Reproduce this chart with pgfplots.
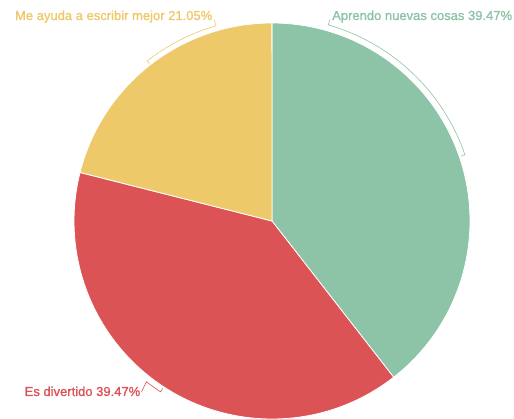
\documentclass[border=0pt]{standalone}
\usepackage{pgfplots}
\pgfplotsset{compat=1.18}
\usepackage{fontspec}
\setmainfont{Liberation Sans}
\newfontfamily\labfont{Liberation Sans}[FakeBold=1.3]
\definecolor{cgreen}{RGB}{141,195,167}
\definecolor{cred}{RGB}{220,83,86}
\definecolor{cyellow}{RGB}{238,201,106}
% slice values (percent), clockwise from the top
\def\vA{39.47}% Aprendo nuevas cosas
\def\vB{39.47}% Es divertido
\def\vC{21.05}% Me ayuda a escribir mejor
\begin{document}
\begin{tikzpicture}
\pgfmathsetmacro\aA{90}
\pgfmathsetmacro\aB{\aA-3.6*\vA}
\pgfmathsetmacro\aC{\aB-3.6*\vB}
\pgfmathsetmacro\aD{\aC-3.6*\vC}
\pgfmathsetmacro\mA{(\aA+\aB)/2}
\pgfmathsetmacro\mB{(\aB+\aC)/2}
\pgfmathsetmacro\mC{(\aC+\aD)/2+360}
\begin{axis}[scale only axis, width=514pt, height=419pt,
  xmin=0, xmax=514, ymin=0, ymax=419, hide axis, clip=false]
\fill[cgreen, draw=white, line width=0.8pt] (axis cs:272,198) -- ++(\aA:198pt) arc[start angle=\aA, end angle=\aB, radius=198pt] -- cycle;
\fill[cred, draw=white, line width=0.8pt] (axis cs:272,198) -- ++(\aB:198pt) arc[start angle=\aB, end angle=\aC, radius=198pt] -- cycle;
\fill[cyellow, draw=white, line width=0.8pt] (axis cs:272,198) -- ++(\aC:198pt) arc[start angle=\aC, end angle=\aD, radius=198pt] -- cycle;
% label brackets
\draw[cgreen, line width=0.6pt] (axis cs:330,399.5) -- ([shift={(74:204pt)}]axis cs:272,198) arc[start angle=74, end angle=\mA, radius=204pt] -- ([shift={(\mA:200pt)}]axis cs:272,198);
\draw[cyellow, line width=0.6pt] (axis cs:214,399.5) -- ([shift={(106:203pt)}]axis cs:272,198) arc[start angle=106, end angle=\mC, radius=203pt] -- ([shift={(\mC:199.5pt)}]axis cs:272,198);
\draw[cred, line width=0.6pt] (axis cs:141.5,27) -- ([shift={(-128:204pt)}]axis cs:272,198) arc[start angle=-128, end angle=\mB, radius=204pt] -- ([shift={(\mB:200pt)}]axis cs:272,198);
% labels
\node[anchor=base west, text=cgreen, inner sep=0pt, font=\labfont\fontsize{13}{15}\selectfont] at (axis cs:332,399) {Aprendo nuevas cosas 39.47\%};
\node[anchor=base east, text=cyellow, inner sep=0pt, font=\labfont\fontsize{13}{15}\selectfont] at (axis cs:212.5,399) {Me ayuda a escribir mejor 21.05\%};
\node[anchor=base east, text=cred, inner sep=0pt, font=\labfont\fontsize{13}{15}\selectfont] at (axis cs:140.5,23) {Es divertido 39.47\%};
\end{axis}
\pgfresetboundingbox
\path[use as bounding box] (0,0) rectangle (514pt,419pt);
\end{tikzpicture}
\end{document}
